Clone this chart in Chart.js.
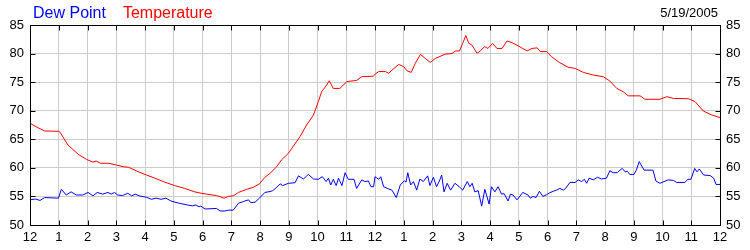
<!DOCTYPE html>
<html>
<head>
<meta charset="utf-8">
<script src="https://cdn.jsdelivr.net/npm/chart.js@4"></script>
<style>
  html, body { margin: 0; padding: 0; background: #fff; }
  #chart { display: block; }
</style>
</head>
<body>
<canvas id="chart" width="750" height="250"></canvas>
<script>
// hours since midnight and readings (°F)
const tempHours = [0, 0.25, 0.51, 1.0, 1.05, 1.32, 1.67, 1.96, 2.19, 2.3, 2.45, 2.74, 3.0, 3.25, 3.43, 3.76,
  4.05, 4.34, 4.69, 5.03, 5.38, 5.73, 5.96, 6.15, 6.49, 6.75, 6.9, 7.07, 7.25, 7.54, 7.77, 7.98,
  8.17, 8.35, 8.58, 8.75, 8.99, 9.16, 9.39, 9.62, 9.86, 10.03, 10.14, 10.32, 10.41, 10.55, 10.78,
  11.02, 11.36, 11.54, 11.94, 12.03, 12.13, 12.36, 12.48, 12.59, 12.82, 13.0, 13.11, 13.26, 13.4,
  13.58, 13.75, 13.92, 14.1, 14.33, 14.44, 14.68, 14.79, 14.94, 15.05, 15.16, 15.26, 15.37, 15.55,
  15.67, 15.81, 15.93, 16.09, 16.24, 16.42, 16.59, 16.77, 17.0, 17.29, 17.46, 17.64, 17.75, 17.97,
  18.14, 18.43, 18.72, 18.96, 19.25, 19.59, 19.94, 20.17, 20.41, 20.64, 20.81, 21.22, 21.39, 21.91,
  22.15, 22.38, 22.9, 23.13, 23.42, 23.71, 24];
const tempValues = [67.8, 67.1, 66.45, 66.4, 66.2, 64.0, 62.4, 61.5, 61.0, 61.2, 60.8, 60.8, 60.5, 60.2, 60.1, 59.33,
  58.75, 58.2, 57.5, 56.9, 56.4, 55.8, 55.55, 55.4, 55.15, 54.7, 55.0, 55.1, 55.7, 56.25, 56.6, 57.2,
  58.35, 59.05, 60.2, 61.4, 62.55, 63.8, 65.45, 67.5, 69.25, 71.6, 73.3, 74.5, 75.25, 73.9, 73.9,
  75.1, 75.3, 75.95, 76.05, 76.5, 76.85, 76.85, 76.55, 77.1, 78.1, 77.7, 77.0, 76.7, 78.3,
  79.85, 79.15, 78.45, 79.15, 79.65, 79.9, 80.0, 80.45, 80.45, 81.8, 83.15, 81.8, 81.5, 80.05,
  80.5, 81.2, 80.9, 81.8, 80.9, 80.9, 82.2, 81.9, 81.3, 80.45, 80.9, 81.0, 80.35, 80.35,
  79.45, 78.4, 77.6, 77.4, 76.7, 76.25, 75.95, 75.2, 73.9, 73.3, 72.6, 72.6, 72.0, 72.0,
  72.45, 72.15, 72.1, 71.6, 69.95, 69.25, 68.8];

const dewHours = [0, 0.18, 0.35, 0.51, 0.99, 1.09, 1.26, 1.43, 1.61, 1.84, 2.02, 2.19, 2.34, 2.53, 2.71, 2.82,
  2.94, 3.05, 3.22, 3.4, 3.54, 3.66, 3.8, 4.05, 4.22, 4.39, 4.56, 4.73, 4.9, 5.19, 5.48, 5.65, 5.77,
  5.88, 5.94, 6.09, 6.49, 6.61, 6.78, 6.9, 7.07, 7.25, 7.42, 7.6, 7.68, 7.83, 7.98, 8.17, 8.35, 8.44,
  8.58, 8.7, 8.79, 8.99, 9.22, 9.34, 9.51, 9.68, 9.86, 10.03, 10.17, 10.3, 10.38, 10.46, 10.55, 10.65,
  10.73, 10.85, 10.96, 11.07, 11.27, 11.36, 11.54, 11.65, 11.77, 11.86, 11.95, 12.0, 12.13, 12.2, 12.3,
  12.48, 12.59, 12.74, 12.88, 13.02, 13.08, 13.14, 13.24, 13.34, 13.45, 13.56, 13.68, 13.83, 13.91,
  14.03, 14.14, 14.24, 14.32, 14.4, 14.51, 14.63, 14.78, 14.93, 15.05, 15.21, 15.3, 15.38, 15.47,
  15.59, 15.71, 15.82, 15.97, 16.05, 16.17, 16.28, 16.4, 16.49, 16.63, 16.71, 16.8, 16.94, 17.14,
  17.32, 17.4, 17.5, 17.6, 17.72, 17.84, 17.97, 18.08, 18.2, 18.31, 18.43, 18.55, 18.63, 18.78, 18.96,
  19.07, 19.19, 19.28, 19.36, 19.45, 19.59, 19.74, 19.88, 20.05, 20.17, 20.28, 20.43, 20.52, 20.6,
  20.7, 20.78, 20.86, 21.01, 21.09, 21.19, 21.36, 21.67, 21.77, 21.91, 22.2, 22.38, 22.49, 22.78,
  22.88, 22.99, 23.12, 23.2, 23.28, 23.43, 23.66, 23.78, 23.86, 24];
const dewValues = [54.4, 54.55, 54.3, 54.8, 54.7, 56.25, 55.25, 55.8, 55.25, 55.25, 55.7, 55.1, 55.7, 55.4, 55.7, 55.4,
  55.7, 55.25, 55.15, 55.55, 55.1, 55.4, 55.1, 54.85, 54.5, 54.7, 54.5, 54.7, 54.2, 53.8, 53.5, 53.35, 53.5,
  53.2, 53.3, 52.8, 52.9, 52.45, 52.45, 52.6, 52.6, 53.8, 54.1, 54.4, 53.9, 54.0, 54.7, 55.7, 55.85, 56.0,
  56.6, 57.2, 56.9, 57.3, 57.4, 58.6, 58.05, 58.85, 58.05, 58.0, 58.45, 57.6, 58.2, 57.0, 58.0, 56.9,
  58.2, 56.9, 59.15, 58.0, 58.0, 56.4, 57.9, 57.6, 57.7, 56.7, 56.7, 58.45, 58.0, 58.45, 56.7,
  56.3, 56.1, 54.8, 57.0, 57.75, 57.5, 59.15, 57.0, 57.6, 56.1, 58.05, 57.6, 58.6, 56.9,
  58.35, 56.7, 57.7, 58.75, 55.8, 57.3, 56.1, 57.3, 56.7, 56.1, 57.6, 56.7, 57.3, 55.8,
  56.0, 53.3, 56.25, 53.65, 56.7, 55.8, 56.7, 55.4, 55.5, 54.2, 55.4, 55.25, 54.4, 55.7,
  55.25, 54.7, 55.0, 54.8, 55.9, 55.0, 55.3, 55.65, 55.9, 56.1, 56.4, 56.1, 56.4, 57.45, 57.45,
  57.9, 57.6, 58.0, 57.3, 58.2, 57.9, 58.35, 58.05, 58.2, 59.5, 59.15, 59.15, 59.6, 59.9,
  59.3, 59.4, 58.85, 58.85, 59.6, 61.1, 59.6, 59.6, 57.7, 57.3, 57.9, 57.8, 57.45, 57.45,
  58.0, 58.0, 59.9, 59.3, 59.8, 58.75, 58.65, 58.2, 57.1, 57.1];

const yTicks = [50, 55, 60, 65, 70, 75, 80, 85];
const hourLabels = ['12', '1', '2', '3', '4', '5', '6', '7', '8', '9', '10', '11',
  '12', '1', '2', '3', '4', '5', '6', '7', '8', '9', '10', '11', '12'];
const dateLabel = '5/19/2005';

const FONT = '"Liberation Sans", Arial, sans-serif';

function toPoints(hours, values) {
  return hours.map((h, i) => ({ x: h, y: values[i] }));
}

// black frame with short inward tick marks on all four sides
const frameTicks = {
  id: 'frameTicks',
  afterDatasetsDraw(chart) {
    const { ctx, chartArea: a, scales: { x, y } } = chart;
    const L = Math.round(a.left) + 0.5, R = Math.round(a.right) + 0.5;
    const T = Math.round(a.top) + 0.5, B = Math.round(a.bottom) + 0.5;
    ctx.save();
    ctx.strokeStyle = '#000';
    ctx.lineWidth = 1;
    ctx.beginPath();
    x.ticks.forEach(t => {
      const px = Math.round(x.getPixelForValue(t.value)) + 0.5;
      ctx.moveTo(px, T); ctx.lineTo(px, T + 5);
      ctx.moveTo(px, B); ctx.lineTo(px, B - 5);
    });
    y.ticks.forEach(t => {
      const py = Math.round(y.getPixelForValue(t.value)) + 0.5;
      ctx.moveTo(L, py); ctx.lineTo(L + 5, py);
      ctx.moveTo(R, py); ctx.lineTo(R - 5, py);
    });
    ctx.stroke();
    ctx.strokeRect(L, T, R - L, B - T);
    ctx.restore();
  }
};

// coloured series names at top left, date at top right
const header = {
  id: 'header',
  afterDraw(chart) {
    const ctx = chart.ctx;
    ctx.save();
    ctx.textBaseline = 'alphabetic';
    ctx.font = '16px ' + FONT;
    let x = 33;
    chart.data.datasets.forEach(ds => {
      ctx.fillStyle = ds.borderColor;
      ctx.textAlign = 'left';
      ctx.fillText(ds.label, x, 18);
      x += ctx.measureText(ds.label).width + 17;
    });
    ctx.font = '13px ' + FONT;
    ctx.fillStyle = '#000';
    ctx.textAlign = 'right';
    ctx.fillText(dateLabel, 718, 17);
    ctx.restore();
  }
};

const yAxis = (position) => ({
  type: 'linear',
  position: position,
  min: 50,
  max: 85,
  afterBuildTicks: s => { s.ticks = yTicks.map(v => ({ value: v })); },
  afterFit: s => { s.width = 30; },
  grid: { display: position === 'left', color: '#cccccc', drawTicks: false },
  border: { display: false },
  ticks: { color: '#000', font: { family: FONT, size: 13 }, padding: 6 }
});

new Chart(document.getElementById('chart'), {
  type: 'line',
  data: {
    datasets: [
      {
        label: 'Dew Point',
        data: toPoints(dewHours, dewValues),
        borderColor: '#0000ff',
        borderWidth: 1,
        pointRadius: 0,
        tension: 0
      },
      {
        label: 'Temperature',
        data: toPoints(tempHours, tempValues),
        borderColor: '#ff0000',
        borderWidth: 1,
        pointRadius: 0,
        tension: 0
      }
    ]
  },
  options: {
    responsive: false,
    animation: false,
    layout: { padding: { top: 25, left: 0, right: 0, bottom: 0 } },
    plugins: {
      legend: { display: false },
      tooltip: { enabled: false }
    },
    scales: {
      x: {
        type: 'linear',
        min: 0,
        max: 24,
        afterBuildTicks: s => { s.ticks = hourLabels.map((_, i) => ({ value: i })); },
        afterFit: s => { s.height = 25; },
        grid: { color: '#cccccc', drawTicks: false },
        border: { display: false },
        ticks: {
          color: '#000',
          font: { family: FONT, size: 13 },
          padding: 5,
          autoSkip: false,
          maxRotation: 0,
          callback: v => hourLabels[v]
        }
      },
      y: yAxis('left'),
      y2: yAxis('right')
    }
  },
  plugins: [frameTicks, header]
});
</script>
</body>
</html>
